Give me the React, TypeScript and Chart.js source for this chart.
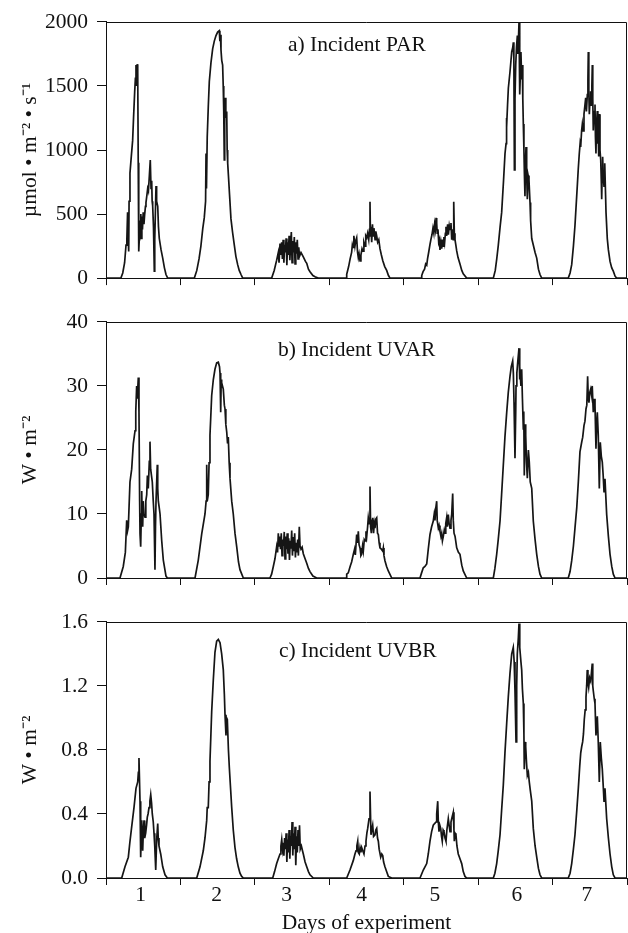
import React, { useEffect, useRef } from "react";
import { Chart, registerables } from "chart.js";

Chart.register(...registerables);

// ---------- data (x = days of experiment, fractional) ----------
const DAY_TICKS = [0, 1, 2, 3, 4, 5, 6, 7];
const DAY_LABELS = ["1", "2", "3", "4", "5", "6", "7"];
const DAY_LABEL_POS = [0.466, 1.487, 2.428, 3.435, 4.42, 5.52, 6.46];
const PANEL_TITLES = ["a) Incident PAR", "b) Incident UVAR", "c) Incident UVBR"];
const Y_TITLES = ["\u00B5mol \u2022 m\u207B\u00B2 \u2022 s\u207B\u00B9", "W \u2022 m\u207B\u00B2", "W \u2022 m\u207B\u00B2"];
const X_TITLE = "Days of experiment";

// Incident PAR (µmol m-2 s-1)
const PAR: [number, number][] = [
  [0, 0],
  [0.2, 0], [0.225, 40], [0.25, 120], [0.269, 258], [0.28, 300], [0.29, 513], [0.296, 350], [0.305, 207], [0.31, 600], [0.322, 820], [0.34, 950], [0.358, 1075], [0.37, 1250], [0.385, 1450], [0.395, 1560], [0.403, 1663], [0.41, 1500], [0.418, 1670], [0.426, 1640], [0.433, 900], [0.44, 207], [0.447, 300], [0.452, 450], [0.46, 330], [0.468, 500], [0.475, 310], [0.482, 480], [0.49, 380], [0.5, 513], [0.51, 420], [0.52, 500], [0.53, 560], [0.537, 590], [0.55, 650], [0.56, 700], [0.57, 680], [0.582, 794], [0.595, 922], [0.605, 700], [0.614, 760], [0.62, 600], [0.627, 565], [0.638, 400], [0.649, 54], [0.655, 300], [0.665, 550], [0.672, 718], [0.68, 600], [0.695, 560], [0.705, 400], [0.716, 309], [0.74, 220], [0.762, 156], [0.785, 80], [0.806, 28], [0.829, 0],
  [1.187, 0], [1.22, 60], [1.25, 150], [1.275, 250], [1.3, 386], [1.32, 470], [1.338, 600], [1.344, 973], [1.35, 700], [1.36, 1100], [1.375, 1350], [1.388, 1535], [1.41, 1680], [1.433, 1790], [1.455, 1850], [1.478, 1893], [1.5, 1920], [1.522, 1931], [1.53, 1850], [1.537, 1900], [1.545, 1780], [1.555, 1700], [1.567, 1663], [1.575, 1500], [1.582, 1300], [1.589, 922], [1.595, 1200], [1.6, 1407], [1.61, 1250], [1.622, 1300], [1.628, 1000], [1.635, 897], [1.645, 800], [1.66, 650], [1.679, 462], [1.7, 360], [1.724, 258], [1.745, 170], [1.769, 105], [1.79, 60], [1.814, 28], [1.837, 0],
  [2.226, 0], [2.26, 60], [2.293, 140], [2.315, 200], [2.325, 120], [2.338, 270], [2.35, 180], [2.36, 280], [2.37, 150], [2.38, 300], [2.39, 120], [2.4, 260], [2.41, 200], [2.42, 310], [2.43, 100], [2.44, 280], [2.45, 180], [2.46, 330], [2.47, 140], [2.48, 250], [2.49, 360], [2.5, 120], [2.51, 290], [2.52, 200], [2.53, 320], [2.54, 110], [2.55, 280], [2.56, 190], [2.57, 300], [2.58, 150], [2.59, 240], [2.6, 170], [2.62, 200], [2.651, 166], [2.68, 130], [2.697, 115], [2.72, 70], [2.741, 50], [2.78, 20], [2.808, 10], [2.852, 0],
  [3.234, 0], [3.234, 30], [3.26, 90], [3.28, 150], [3.3, 200], [3.31, 260], [3.319, 240], [3.33, 330], [3.345, 250], [3.355, 290], [3.368, 315], [3.38, 200], [3.39, 160], [3.4, 190], [3.413, 135], [3.425, 180], [3.44, 230], [3.453, 210], [3.465, 280], [3.48, 250], [3.49, 330], [3.503, 315], [3.515, 350], [3.53, 300], [3.54, 380], [3.547, 596], [3.553, 330], [3.56, 400], [3.57, 280], [3.58, 420], [3.59, 330], [3.6, 390], [3.615, 300], [3.625, 365], [3.637, 330], [3.65, 280], [3.665, 300], [3.681, 230], [3.7, 180], [3.719, 135], [3.745, 90], [3.771, 60], [3.795, 20], [3.816, 0],
  [4.242, 0], [4.242, 20], [4.26, 50], [4.28, 70], [4.295, 110], [4.309, 100], [4.32, 150], [4.335, 200], [4.353, 263], [4.365, 300], [4.38, 340], [4.393, 390], [4.405, 350], [4.415, 420], [4.425, 380], [4.435, 470], [4.443, 430], [4.45, 350], [4.46, 380], [4.47, 280], [4.48, 300], [4.487, 220], [4.5, 280], [4.51, 230], [4.52, 300], [4.528, 250], [4.54, 320], [4.55, 280], [4.56, 350], [4.568, 400], [4.577, 330], [4.59, 420], [4.6, 340], [4.612, 410], [4.622, 380], [4.635, 430], [4.645, 300], [4.655, 380], [4.665, 300], [4.672, 596], [4.68, 350], [4.689, 300], [4.7, 260], [4.712, 212], [4.73, 160], [4.756, 110], [4.78, 60], [4.8, 33], [4.846, 0],
  [5.204, 0], [5.23, 60], [5.25, 150], [5.271, 258], [5.295, 400], [5.316, 513], [5.34, 750], [5.361, 973], [5.375, 1050], [5.38, 1250], [5.384, 1177], [5.395, 1350], [5.406, 1484], [5.428, 1611], [5.451, 1765], [5.465, 1800], [5.473, 1841], [5.48, 1700], [5.487, 845], [5.495, 1400], [5.505, 1663], [5.515, 1800], [5.527, 1893], [5.535, 1750], [5.549, 1995], [5.555, 1700], [5.562, 1433], [5.568, 1600], [5.575, 1765], [5.585, 1550], [5.593, 1663], [5.6, 1400], [5.607, 1203], [5.615, 1000], [5.622, 800], [5.629, 639], [5.636, 900], [5.643, 1024], [5.652, 800], [5.661, 615], [5.672, 800], [5.683, 766], [5.697, 590], [5.705, 450], [5.72, 309], [5.741, 258], [5.765, 200], [5.787, 156], [5.81, 70], [5.831, 28], [5.854, 0],
  [6.211, 0], [6.235, 40], [6.257, 105], [6.28, 250], [6.301, 411], [6.315, 550], [6.332, 718], [6.345, 850], [6.359, 973], [6.37, 1050], [6.378, 1024], [6.39, 1150], [6.4, 1203], [6.41, 1150], [6.422, 1280], [6.435, 1350], [6.445, 1407], [6.455, 1300], [6.467, 1433], [6.475, 1550], [6.48, 1765], [6.487, 1450], [6.494, 1280], [6.503, 1400], [6.512, 1458], [6.52, 1350], [6.528, 1500], [6.534, 1663], [6.54, 1400], [6.547, 1152], [6.557, 1300], [6.57, 1356], [6.576, 1100], [6.583, 973], [6.59, 1200], [6.601, 1305], [6.608, 1050], [6.614, 1126], [6.62, 950], [6.628, 1280], [6.637, 1000], [6.647, 922], [6.655, 750], [6.66, 615], [6.666, 800], [6.673, 947], [6.68, 800], [6.691, 718], [6.698, 850], [6.704, 896], [6.712, 650], [6.718, 513], [6.735, 309], [6.75, 220], [6.772, 130], [6.795, 80], [6.816, 54], [6.84, 15], [6.861, 0],
  [7, 0],
];

// Incident UVAR (W m-2)
const UVAR: [number, number][] = [
  [0, 0],
  [0.188, 0], [0.232, 1.8], [0.26, 4], [0.278, 9], [0.29, 7.4], [0.3, 8], [0.322, 15], [0.345, 17], [0.367, 21], [0.39, 23], [0.4, 26], [0.412, 30], [0.42, 28], [0.434, 31.3], [0.443, 26], [0.452, 12], [0.457, 6.9], [0.466, 4.9], [0.475, 10], [0.48, 13.6], [0.487, 9], [0.493, 8], [0.5, 12], [0.511, 10], [0.524, 9.5], [0.535, 12], [0.547, 13], [0.556, 16], [0.568, 14], [0.582, 18.2], [0.591, 21.3], [0.6, 17], [0.622, 15], [0.635, 12], [0.645, 10], [0.658, 1.3], [0.665, 8], [0.672, 12], [0.689, 17.7], [0.695, 14], [0.703, 12], [0.715, 11], [0.726, 10], [0.748, 5.9], [0.77, 2.8], [0.806, 0.3], [0.824, 0],
  [1.196, 0], [1.24, 2.8], [1.286, 6.9], [1.33, 10], [1.345, 12], [1.353, 17.7], [1.36, 12], [1.374, 13], [1.385, 18], [1.397, 22.3], [1.42, 28.5], [1.442, 31], [1.464, 32.6], [1.487, 33.6], [1.509, 33.7], [1.525, 33], [1.532, 32], [1.541, 25.9], [1.548, 31], [1.554, 30.5], [1.565, 30], [1.576, 29.5], [1.59, 27], [1.599, 26.4], [1.61, 24], [1.622, 22.8], [1.633, 21], [1.643, 22], [1.655, 18], [1.666, 15.6], [1.689, 12], [1.71, 10], [1.733, 7], [1.756, 4.9], [1.78, 2.5], [1.8, 1.3], [1.845, 0],
  [2.203, 0], [2.225, 0.6], [2.248, 1.8], [2.27, 3], [2.293, 4.9], [2.305, 4], [2.315, 7], [2.325, 5], [2.335, 6.5], [2.345, 4.5], [2.355, 7], [2.365, 3.5], [2.375, 6], [2.385, 5], [2.395, 7.2], [2.405, 3], [2.415, 6.5], [2.425, 4.5], [2.435, 7], [2.445, 3.8], [2.455, 6.2], [2.465, 2.8], [2.475, 5.8], [2.485, 4.6], [2.495, 7.4], [2.505, 3.5], [2.515, 6.4], [2.525, 4.2], [2.535, 7], [2.545, 3.2], [2.555, 5.5], [2.565, 4], [2.575, 6], [2.585, 3.5], [2.597, 8], [2.607, 5], [2.62, 4.5], [2.635, 4.8], [2.651, 3.8], [2.675, 3], [2.697, 2.3], [2.72, 1.5], [2.741, 1], [2.78, 0.3], [2.831, 0],
  [3.234, 0], [3.234, 0.6], [3.255, 0.8], [3.28, 1.8], [3.3, 2.5], [3.323, 3.7], [3.34, 4.5], [3.35, 3.6], [3.368, 6.8], [3.38, 5.5], [3.39, 7.3], [3.4, 5.2], [3.413, 4.7], [3.425, 3.5], [3.435, 3.7], [3.447, 5], [3.457, 4.2], [3.47, 6], [3.48, 5.8], [3.493, 7.3], [3.503, 6.5], [3.515, 8], [3.524, 9.4], [3.535, 8.5], [3.547, 14.3], [3.555, 8], [3.565, 7], [3.575, 9], [3.583, 9.4], [3.595, 7], [3.605, 8.5], [3.614, 7.8], [3.625, 9.2], [3.637, 9.4], [3.648, 7], [3.659, 6.8], [3.67, 5.5], [3.681, 4.7], [3.7, 4.5], [3.718, 4.2], [3.726, 4.7], [3.735, 3.5], [3.748, 2.7], [3.77, 1.8], [3.793, 1.1], [3.839, 0],
  [4.219, 0], [4.24, 0.8], [4.263, 1.6], [4.285, 1.8], [4.309, 2.2], [4.33, 4.5], [4.353, 6.8], [4.375, 8], [4.397, 8.9], [4.41, 10], [4.42, 9], [4.432, 11], [4.443, 12], [4.45, 9], [4.465, 7.8], [4.475, 8.2], [4.487, 7.3], [4.5, 6.5], [4.51, 7], [4.52, 5.8], [4.532, 6.5], [4.545, 7.5], [4.555, 7], [4.565, 8.5], [4.577, 9.4], [4.585, 8], [4.599, 9.9], [4.61, 8.5], [4.622, 7.8], [4.635, 9], [4.645, 10], [4.658, 13.2], [4.666, 9], [4.676, 7], [4.69, 6.5], [4.712, 4.7], [4.735, 4], [4.756, 3.7], [4.78, 2], [4.8, 1.1], [4.846, 0],
  [5.204, 0], [5.225, 1.5], [5.249, 3.7], [5.27, 6], [5.294, 8.9], [5.315, 13], [5.338, 17.6], [5.36, 22], [5.384, 25.9], [5.405, 29], [5.428, 31.5], [5.445, 33], [5.464, 33.9], [5.473, 32], [5.482, 27.4], [5.495, 18.7], [5.505, 26], [5.509, 30], [5.52, 32], [5.531, 33.6], [5.549, 35.9], [5.555, 31], [5.562, 33], [5.575, 30], [5.585, 32.6], [5.595, 28], [5.607, 23.3], [5.613, 26], [5.62, 16], [5.63, 24], [5.639, 22.3], [5.65, 18], [5.661, 15.6], [5.675, 20], [5.687, 18.1], [5.7, 15], [5.72, 14], [5.741, 8.9], [5.765, 6], [5.787, 3.7], [5.81, 1.8], [5.831, 0.6], [5.854, 0],
  [6.211, 0], [6.235, 1], [6.257, 2.7], [6.28, 5], [6.301, 7.8], [6.325, 11], [6.346, 15], [6.368, 19.7], [6.391, 21.2], [6.405, 22], [6.422, 23.8], [6.435, 24.5], [6.449, 26.4], [6.46, 27], [6.471, 31.5], [6.48, 28], [6.489, 27.4], [6.5, 29], [6.512, 29.5], [6.525, 28.5], [6.533, 30], [6.547, 25.9], [6.56, 28], [6.57, 27], [6.583, 20.2], [6.592, 24], [6.601, 25.9], [6.614, 22.3], [6.628, 14], [6.641, 21.2], [6.655, 19], [6.668, 18.1], [6.68, 16], [6.691, 13.5], [6.704, 15.5], [6.727, 9.9], [6.75, 6.5], [6.772, 3.7], [6.795, 1.8], [6.816, 0.6], [6.839, 0],
  [7, 0],
];

// Incident UVBR (W m-2)
const UVBR: [number, number][] = [
  [0, 0],
  [0.211, 0], [0.255, 0.07], [0.3, 0.13], [0.32, 0.22], [0.345, 0.32], [0.376, 0.44], [0.403, 0.56], [0.426, 0.6], [0.435, 0.66], [0.443, 0.75], [0.457, 0.48], [0.466, 0.13], [0.48, 0.36], [0.493, 0.17], [0.502, 0.3], [0.511, 0.36], [0.52, 0.25], [0.533, 0.28], [0.545, 0.33], [0.555, 0.38], [0.565, 0.4], [0.578, 0.44], [0.59, 0.48], [0.601, 0.52], [0.612, 0.47], [0.622, 0.4], [0.635, 0.35], [0.645, 0.28], [0.655, 0.2], [0.668, 0.05], [0.681, 0.24], [0.695, 0.34], [0.702, 0.25], [0.712, 0.2], [0.735, 0.15], [0.762, 0.07], [0.793, 0.02], [0.824, 0],
  [1.219, 0], [1.263, 0.07], [1.307, 0.17], [1.33, 0.25], [1.353, 0.36], [1.36, 0.44], [1.374, 0.44], [1.385, 0.6], [1.397, 0.73], [1.42, 1.04], [1.442, 1.24], [1.464, 1.41], [1.487, 1.48], [1.509, 1.49], [1.532, 1.47], [1.554, 1.4], [1.576, 1.3], [1.59, 1.15], [1.599, 1.02], [1.612, 0.89], [1.62, 1.0], [1.63, 0.99], [1.645, 0.8], [1.657, 0.69], [1.675, 0.55], [1.689, 0.44], [1.71, 0.3], [1.733, 0.19], [1.755, 0.12], [1.777, 0.07], [1.8, 0.03], [1.823, 0.01], [1.845, 0],
  [2.24, 0], [2.265, 0.04], [2.293, 0.09], [2.315, 0.12], [2.338, 0.15], [2.35, 0.2], [2.361, 0.24], [2.372, 0.18], [2.382, 0.22], [2.39, 0.14], [2.4, 0.25], [2.41, 0.18], [2.42, 0.28], [2.43, 0.1], [2.44, 0.24], [2.45, 0.16], [2.46, 0.3], [2.47, 0.12], [2.48, 0.26], [2.49, 0.2], [2.5, 0.35], [2.51, 0.14], [2.52, 0.28], [2.53, 0.18], [2.54, 0.32], [2.55, 0.08], [2.56, 0.26], [2.57, 0.16], [2.58, 0.3], [2.59, 0.2], [2.6, 0.33], [2.61, 0.18], [2.625, 0.2], [2.64, 0.17], [2.651, 0.15], [2.675, 0.1], [2.697, 0.07], [2.72, 0.04], [2.741, 0.02], [2.785, 0],
  [3.234, 0], [3.278, 0.05], [3.323, 0.11], [3.345, 0.15], [3.359, 0.17], [3.37, 0.2], [3.382, 0.23], [3.39, 0.16], [3.403, 0.15], [3.413, 0.19], [3.425, 0.16], [3.435, 0.19], [3.45, 0.17], [3.466, 0.15], [3.48, 0.2], [3.493, 0.23], [3.505, 0.28], [3.516, 0.31], [3.534, 0.37], [3.547, 0.54], [3.56, 0.27], [3.57, 0.3], [3.583, 0.33], [3.595, 0.26], [3.614, 0.27], [3.625, 0.3], [3.637, 0.31], [3.648, 0.25], [3.659, 0.23], [3.67, 0.18], [3.691, 0.13], [3.705, 0.15], [3.718, 0.14], [3.73, 0.1], [3.748, 0.07], [3.77, 0.04], [3.793, 0.01], [3.839, 0],
  [4.219, 0], [4.263, 0.05], [4.309, 0.09], [4.33, 0.15], [4.353, 0.23], [4.375, 0.29], [4.397, 0.33], [4.415, 0.34], [4.434, 0.35], [4.443, 0.4], [4.457, 0.48], [4.465, 0.35], [4.474, 0.29], [4.485, 0.33], [4.497, 0.31], [4.508, 0.26], [4.518, 0.23], [4.53, 0.3], [4.541, 0.29], [4.555, 0.25], [4.568, 0.23], [4.58, 0.3], [4.599, 0.37], [4.61, 0.33], [4.622, 0.29], [4.635, 0.35], [4.645, 0.37], [4.666, 0.41], [4.675, 0.3], [4.68, 0.23], [4.69, 0.28], [4.702, 0.27], [4.715, 0.2], [4.733, 0.15], [4.756, 0.12], [4.779, 0.09], [4.8, 0.04], [4.823, 0.01], [4.846, 0],
  [5.204, 0], [5.225, 0.03], [5.249, 0.09], [5.27, 0.17], [5.294, 0.27], [5.315, 0.42], [5.338, 0.58], [5.36, 0.78], [5.384, 0.97], [5.405, 1.13], [5.428, 1.28], [5.451, 1.4], [5.472, 1.44], [5.484, 1.35], [5.495, 1.17], [5.509, 0.85], [5.518, 1.2], [5.526, 1.4], [5.54, 1.5], [5.549, 1.59], [5.556, 1.45], [5.562, 1.44], [5.575, 1.35], [5.585, 1.3], [5.595, 1.18], [5.607, 1.09], [5.615, 0.9], [5.62, 0.68], [5.63, 0.85], [5.639, 0.82], [5.65, 0.72], [5.661, 0.64], [5.675, 0.66], [5.687, 0.6], [5.7, 0.55], [5.72, 0.48], [5.741, 0.31], [5.765, 0.2], [5.787, 0.13], [5.81, 0.06], [5.831, 0.02], [5.854, 0],
  [6.211, 0], [6.235, 0.03], [6.257, 0.09], [6.28, 0.18], [6.301, 0.27], [6.325, 0.42], [6.346, 0.56], [6.365, 0.7], [6.378, 0.78], [6.391, 0.82], [6.404, 0.85], [6.415, 0.9], [6.426, 0.99], [6.438, 1.05], [6.449, 1.13], [6.458, 1.2], [6.466, 1.3], [6.475, 1.22], [6.485, 1.19], [6.498, 1.25], [6.512, 1.23], [6.522, 1.28], [6.533, 1.34], [6.54, 1.2], [6.547, 1.17], [6.56, 1.12], [6.57, 1.09], [6.583, 0.89], [6.592, 0.95], [6.601, 1.01], [6.614, 0.85], [6.628, 0.6], [6.641, 0.85], [6.655, 0.75], [6.668, 0.68], [6.68, 0.58], [6.691, 0.48], [6.704, 0.56], [6.727, 0.37], [6.75, 0.25], [6.772, 0.15], [6.795, 0.07], [6.816, 0.02], [6.839, 0],
  [7, 0],
];

const Y_MAX = [2000, 40, 1.6];
const Y_STEP = [500, 10, 0.4];
const Y_DECIMALS = [0, 0, 1];

// ---------- styling ----------
const FONT_FAMILY = '"Liberation Serif", "Times New Roman", serif';
const INK = "#111111";
const FONT_SIZE = 21.5;

type PanelCfg = {
  data: [number, number][];
  index: number;
  top: number; // canvas top in page
  height: number; // canvas height
  padTop: number;
  xHeight: number;
  showX: boolean;
  labelDx: number;
  labelDy: number;
};

const PANELS: PanelCfg[] = [
  { data: PAR, index: 0, top: 0, height: 300, padTop: 21, xHeight: 18, showX: false, labelDx: 182, labelDy: 29 },
  { data: UVAR, index: 1, top: 300, height: 300, padTop: 18, xHeight: 22, showX: false, labelDx: 172, labelDy: 34 },
  { data: UVBR, index: 2, top: 600, height: 345, padTop: 18, xHeight: 67, showX: true, labelDx: 173, labelDy: 35 },
];

const framePlugin = {
  id: "frameAndLabel",
  afterDraw(chart: any, _args: any, opts: any) {
    const { ctx, chartArea: a } = chart;
    ctx.save();
    ctx.strokeStyle = INK;
    ctx.lineWidth = 1;
    const top = Math.round(a.top) + 0.5;
    const right = Math.round(a.right) - 0.5;
    ctx.beginPath();
    ctx.moveTo(a.left, top);
    ctx.lineTo(right, top);
    ctx.lineTo(right, a.bottom);
    ctx.stroke();
    if (opts && opts.text) {
      ctx.font = `${FONT_SIZE}px ${FONT_FAMILY}`;
      ctx.fillStyle = INK;
      ctx.textAlign = "left";
      ctx.textBaseline = "alphabetic";
      ctx.fillText(opts.text, a.left + opts.dx, a.top + opts.dy);
    }
    ctx.restore();
  },
};

function Panel({ cfg }: { cfg: PanelCfg }) {
  const ref = useRef<HTMLCanvasElement>(null);
  useEffect(() => {
    const i = cfg.index;
    const font = { family: FONT_FAMILY, size: FONT_SIZE, lineHeight: 1 };
    const chart = new Chart(ref.current as HTMLCanvasElement, {
      type: "line",
      data: {
        datasets: [
          {
            data: cfg.data.map(([x, y]) => ({ x, y })),
            borderColor: "#151515",
            borderWidth: 1.7,
            pointRadius: 0,
            tension: 0,
            fill: false,
          },
        ],
      },
      options: {
        animation: false,
        responsive: false,
        events: [],
        layout: { padding: { top: cfg.padTop, right: 1, left: 0, bottom: 0 } },
        plugins: {
          legend: { display: false },
          tooltip: { enabled: false },
          frameAndLabel: { text: PANEL_TITLES[i], dx: cfg.labelDx, dy: cfg.labelDy },
        } as any,
        scales: {
          x: {
            type: "linear",
            min: 0,
            max: 7,
            afterBuildTicks: (scale: any) => {
              const all = [...DAY_TICKS, ...DAY_LABEL_POS].sort((p, q) => p - q);
              scale.ticks = all.map((v) => ({ value: v }));
            },
            afterFit: (scale: any) => {
              scale.height = cfg.xHeight;
            },
            ticks: {
              display: cfg.showX,
              autoSkip: false,
              maxRotation: 0,
              padding: 0,
              color: INK,
              font,
              callback: (v: any) => {
                const k = DAY_LABEL_POS.indexOf(Number(v));
                return k >= 0 ? DAY_LABELS[k] : "";
              },
            },
            grid: {
              drawOnChartArea: false,
              drawTicks: true,
              tickLength: 7,
              lineWidth: 1,
              color: INK,
              tickColor: (ctx: any) =>
                ctx.tick && DAY_TICKS.includes(ctx.tick.value) ? INK : "rgba(0,0,0,0)",
            },
            border: { display: true, color: INK, width: 1 },
            title: {
              display: cfg.showX,
              text: X_TITLE,
              color: INK,
              font: { family: FONT_FAMILY, size: FONT_SIZE, lineHeight: 1.2 },
              padding: { top: 0, bottom: 9 },
            },
          },
          y: {
            min: 0,
            max: Y_MAX[i],
            afterFit: (scale: any) => {
              scale.width = 106;
            },
            ticks: {
              stepSize: Y_STEP[i],
              padding: 9,
              color: INK,
              font: { family: FONT_FAMILY, size: FONT_SIZE },
              callback: (v: any) => Number(v).toFixed(Y_DECIMALS[i]),
            },
            grid: {
              drawOnChartArea: false,
              drawTicks: true,
              tickLength: 9,
              lineWidth: 1,
              color: INK,
            },
            border: { display: true, color: INK, width: 1 },
            title: {
              display: true,
              text: Y_TITLES[i],
              color: INK,
              font: { family: FONT_FAMILY, size: FONT_SIZE, lineHeight: 1.2 },
              padding: { top: 17, bottom: 0 },
            },
          },
        },
      },
      plugins: [framePlugin],
    } as any);
    return () => chart.destroy();
  }, [cfg]);
  return (
    <canvas
      ref={ref}
      width={628}
      height={cfg.height}
      style={{ position: "absolute", left: 0, top: cfg.top, width: 628, height: cfg.height }}
    />
  );
}

export default function App() {
  return (
    <div
      style={{
        position: "absolute",
        left: 0,
        top: 0,
        width: 628,
        height: 933,
        overflow: "hidden",
        background: "#ffffff",
      }}
    >
      {PANELS.map((p) => (
        <Panel key={p.index} cfg={p} />
      ))}
    </div>
  );
}
